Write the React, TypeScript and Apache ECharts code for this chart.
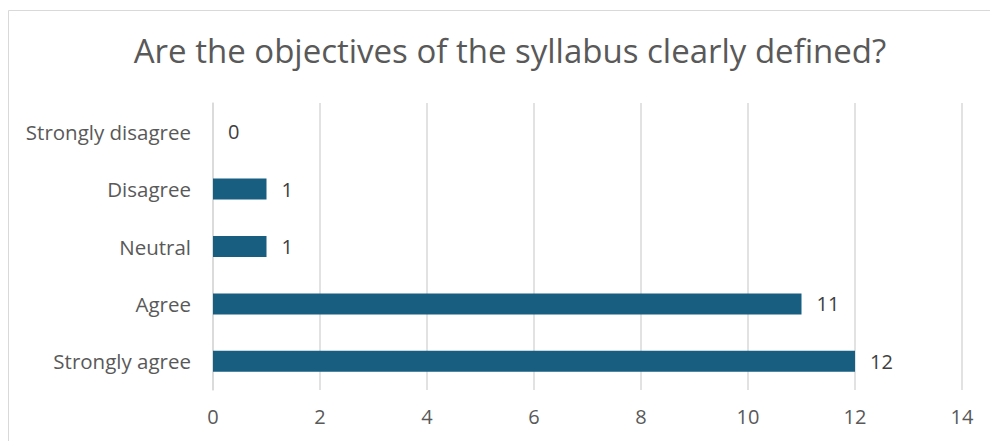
import React, { useEffect, useRef } from "react";
import * as echarts from "echarts";

const categories = ["Strongly agree", "Agree", "Neutral", "Disagree", "Strongly disagree"];
const values = [12, 11, 1, 1, 0];
const titleText = "Are the objectives of the syllabus clearly defined?";
const FONT = "'Open Sans', 'Noto Sans', sans-serif";

export default function App() {
  const ref = useRef<HTMLDivElement>(null);
  useEffect(() => {
    if (!ref.current) return;
    const chart = echarts.init(ref.current, undefined, { renderer: "svg" });
    chart.setOption({
      animation: false,
      backgroundColor: "#ffffff",
      title: {
        text: titleText,
        left: 505,
        top: 29,
        textAlign: "center",
        textStyle: { color: "#595959", fontSize: 33, fontWeight: "normal", fontFamily: FONT },
      },
      graphic: [
        {
          type: "rect",
          shape: { x: 8.5, y: 10.5, width: 1100, height: 600 },
          style: { fill: "none", stroke: "#d9d9d9", lineWidth: 1 },
          silent: true,
        },
      ],
      grid: { left: 213, right: 28, top: 103, bottom: 51, containLabel: false },
      xAxis: {
        type: "value",
        min: 0,
        max: 14,
        interval: 2,
        axisLine: { show: false },
        axisTick: { show: false },
        splitLine: { show: true, lineStyle: { color: "#d9d9d9", width: 1.5 } },
        axisLabel: { color: "#595959", fontSize: 20, fontFamily: FONT, margin: 16 },
      },
      yAxis: {
        type: "category",
        data: categories,
        axisLine: { show: true, lineStyle: { color: "#d9d9d9", width: 1.5 } },
        axisTick: { show: false },
        axisLabel: { color: "#595959", fontSize: 20.5, fontFamily: FONT, margin: 22 },
      },
      series: [
        {
          type: "bar",
          data: values,
          barWidth: 21,
          itemStyle: { color: "#175e80" },
          label: {
            show: true,
            position: "right",
            distance: 15,
            color: "#404040",
            fontSize: 20,
            fontFamily: FONT,
          },
        },
      ],
    });
    return () => chart.dispose();
  }, []);
  return (
    <div
      ref={ref}
      style={{ position: "absolute", left: 0, top: 0, width: 990, height: 441 }}
    />
  );
}
